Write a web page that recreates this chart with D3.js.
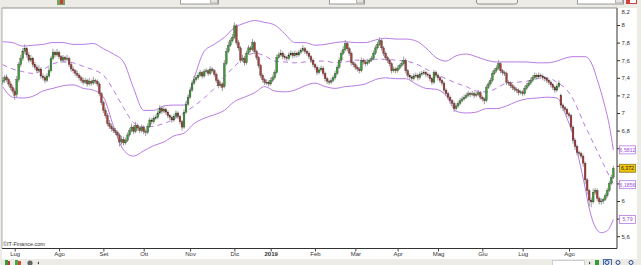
<!DOCTYPE html>
<html>
<head>
<meta charset="utf-8">
<script src="https://cdn.jsdelivr.net/npm/d3@7"></script>
<style>
html, body { margin: 0; padding: 0; background: #ecebe6; }
svg { display: block; font-family: "Liberation Sans", Arial, sans-serif; }
</style>
</head>
<body>
<svg id="chart" width="641" height="265"></svg>
<script>
// daily candles, one per trading day (index 0 = late June 2018)
var opens = [
7.35,7.37,7.41,7.38,7.33,7.29,7.25,7.21,7.38,7.55,
7.62,7.70,7.73,7.66,7.60,7.62,7.55,7.52,7.48,7.50,
7.42,7.40,7.37,7.42,7.48,7.62,7.69,7.66,7.69,7.64,
7.60,7.63,7.61,7.62,7.55,7.50,7.48,7.45,7.43,7.40,
7.37,7.35,7.37,7.33,7.36,7.34,7.37,7.36,7.33,7.22,
7.12,7.03,6.97,6.88,6.85,6.82,6.80,6.78,6.75,6.67,
6.70,6.66,6.69,6.75,6.80,6.84,6.79,6.86,6.83,6.80,
6.84,6.79,6.78,6.85,6.92,6.90,6.94,6.95,7.00,7.05,
7.02,7.04,7.01,6.97,6.95,6.92,6.96,7.00,6.96,6.90,
6.84,7.01,7.10,7.18,7.26,7.34,7.38,7.40,7.43,7.46,
7.42,7.47,7.48,7.45,7.50,7.48,7.44,7.37,7.31,7.33,
7.30,7.56,7.70,7.77,7.82,7.86,7.99,7.80,7.74,7.60,
7.62,7.57,7.68,7.74,7.72,7.80,7.70,7.63,7.54,7.43,
7.38,7.35,7.35,7.33,7.37,7.40,7.46,7.63,7.66,7.68,
7.64,7.63,7.62,7.66,7.68,7.65,7.68,7.66,7.69,7.71,
7.73,7.70,7.68,7.64,7.60,7.55,7.52,7.46,7.49,7.51,
7.45,7.39,7.36,7.35,7.37,7.40,7.45,7.52,7.60,7.68,
7.72,7.79,7.73,7.68,7.57,7.55,7.52,7.50,7.48,7.60,
7.58,7.56,7.58,7.60,7.62,7.68,7.74,7.78,7.82,7.74,
7.68,7.63,7.60,7.56,7.48,7.50,7.48,7.51,7.54,7.56,
7.60,7.48,7.43,7.41,7.39,7.42,7.43,7.40,7.44,7.45,
7.46,7.44,7.43,7.39,7.35,7.46,7.43,7.40,7.37,7.34,
7.26,7.22,7.18,7.14,7.11,7.05,7.08,7.11,7.14,7.16,
7.18,7.20,7.22,7.21,7.22,7.20,7.21,7.23,7.18,7.16,
7.14,7.29,7.33,7.37,7.45,7.48,7.51,7.56,7.48,7.46,
7.45,7.35,7.34,7.31,7.29,7.27,7.26,7.23,7.24,7.22,
7.28,7.31,7.34,7.37,7.40,7.43,7.41,7.43,7.42,7.40,
7.39,7.37,7.35,7.32,7.29,7.26,7.30,7.20,7.09,7.06,
7.04,6.99,6.97,6.84,6.69,6.62,6.55,6.54,6.51,6.43,
6.24,6.12,6.01,5.99,6.10,6.12,6.03,5.99,6.00,6.02,
6.06,6.12,6.20,6.27
];
var highs = [
7.41,7.43,7.44,7.40,7.36,7.32,7.28,7.42,7.58,7.66,
7.74,7.78,7.75,7.69,7.66,7.64,7.58,7.55,7.54,7.52,
7.45,7.43,7.45,7.52,7.65,7.73,7.71,7.73,7.71,7.66,
7.66,7.65,7.66,7.64,7.58,7.53,7.50,7.48,7.45,7.42,
7.40,7.40,7.39,7.40,7.38,7.41,7.39,7.38,7.35,7.24,
7.14,7.06,7.00,6.92,6.88,6.85,6.83,6.80,6.77,6.74,
6.73,6.72,6.78,6.83,6.88,6.86,6.90,6.88,6.85,6.87,
6.86,6.82,6.88,6.95,6.94,6.97,6.98,7.03,7.09,7.07,
7.07,7.06,7.03,6.99,6.97,6.99,7.03,7.02,6.98,6.92,
7.04,7.13,7.21,7.29,7.37,7.42,7.43,7.46,7.49,7.48,
7.50,7.51,7.50,7.53,7.52,7.50,7.46,7.39,7.36,7.35,
7.60,7.74,7.81,7.85,7.90,8.03,8.01,7.83,7.76,7.66,
7.65,7.71,7.77,7.76,7.84,7.82,7.72,7.65,7.56,7.45,
7.40,7.38,7.37,7.40,7.43,7.49,7.66,7.69,7.72,7.70,
7.67,7.65,7.69,7.71,7.70,7.71,7.70,7.72,7.74,7.77,
7.75,7.72,7.70,7.66,7.62,7.57,7.54,7.52,7.54,7.53,
7.47,7.41,7.38,7.40,7.43,7.48,7.55,7.63,7.71,7.76,
7.83,7.81,7.75,7.70,7.59,7.57,7.54,7.52,7.63,7.62,
7.60,7.61,7.62,7.65,7.71,7.77,7.81,7.86,7.84,7.76,
7.70,7.65,7.62,7.58,7.53,7.52,7.54,7.56,7.59,7.64,
7.62,7.50,7.45,7.43,7.45,7.46,7.45,7.47,7.48,7.49,
7.48,7.46,7.45,7.41,7.49,7.48,7.45,7.42,7.39,7.36,
7.28,7.24,7.20,7.16,7.13,7.11,7.14,7.17,7.19,7.21,
7.23,7.25,7.24,7.25,7.24,7.24,7.26,7.25,7.20,7.18,
7.32,7.36,7.40,7.48,7.51,7.54,7.60,7.58,7.50,7.48,
7.47,7.37,7.36,7.33,7.31,7.29,7.28,7.26,7.26,7.31,
7.34,7.37,7.40,7.43,7.46,7.45,7.46,7.45,7.44,7.42,
7.41,7.39,7.37,7.34,7.31,7.33,7.37,7.22,7.11,7.08,
7.06,7.01,6.99,6.86,6.71,6.64,6.57,6.56,6.53,6.45,
6.26,6.14,6.04,6.14,6.15,6.14,6.05,6.03,6.04,6.09,
6.15,6.23,6.30,6.40
];
var lows = [
7.32,7.34,7.35,7.30,7.26,7.22,7.15,7.18,7.35,7.52,
7.59,7.67,7.63,7.57,7.58,7.52,7.49,7.45,7.46,7.39,
7.37,7.34,7.35,7.40,7.46,7.60,7.63,7.64,7.61,7.57,
7.58,7.58,7.59,7.52,7.47,7.45,7.42,7.40,7.37,7.34,
7.32,7.33,7.30,7.31,7.31,7.32,7.33,7.30,7.19,7.09,
7.00,6.94,6.85,6.82,6.79,6.77,6.75,6.71,6.62,6.64,
6.63,6.64,6.67,6.73,6.78,6.76,6.77,6.80,6.77,6.78,
6.76,6.74,6.76,6.83,6.87,6.88,6.92,6.93,6.98,6.99,
7.00,6.98,6.94,6.92,6.89,6.90,6.94,6.93,6.87,6.80,
6.82,6.99,7.08,7.16,7.24,7.32,7.36,7.38,7.41,7.39,
7.40,7.45,7.42,7.43,7.46,7.41,7.34,7.28,7.29,7.25,
7.28,7.54,7.68,7.75,7.80,7.84,7.77,7.71,7.57,7.58,
7.54,7.55,7.66,7.69,7.70,7.67,7.60,7.51,7.40,7.35,
7.32,7.32,7.30,7.31,7.35,7.38,7.44,7.61,7.64,7.61,
7.60,7.59,7.60,7.64,7.62,7.63,7.63,7.64,7.67,7.69,
7.67,7.65,7.61,7.57,7.52,7.49,7.43,7.44,7.47,7.42,
7.36,7.33,7.32,7.33,7.35,7.38,7.43,7.50,7.58,7.66,
7.70,7.70,7.65,7.54,7.52,7.49,7.47,7.45,7.46,7.55,
7.53,7.54,7.56,7.58,7.60,7.66,7.72,7.76,7.71,7.65,
7.60,7.57,7.53,7.45,7.46,7.45,7.46,7.49,7.52,7.54,
7.45,7.40,7.38,7.36,7.37,7.40,7.37,7.38,7.42,7.43,
7.41,7.40,7.36,7.32,7.33,7.40,7.37,7.34,7.31,7.23,
7.19,7.15,7.11,7.08,7.01,7.03,7.06,7.09,7.12,7.14,
7.16,7.18,7.18,7.19,7.17,7.18,7.19,7.15,7.13,7.10,
7.12,7.27,7.31,7.35,7.43,7.46,7.49,7.45,7.43,7.42,
7.32,7.31,7.28,7.26,7.24,7.23,7.20,7.21,7.19,7.20,
7.26,7.29,7.32,7.35,7.38,7.38,7.39,7.39,7.37,7.36,
7.34,7.32,7.29,7.26,7.23,7.24,7.28,7.05,7.02,7.01,
6.96,6.94,6.80,6.65,6.58,6.52,6.51,6.48,6.39,6.19,
6.07,5.94,5.93,5.97,6.07,6.00,5.96,5.96,5.97,6.00,
6.04,6.10,6.18,6.25
];
var closes = [
7.37,7.40,7.38,7.33,7.29,7.25,7.20,7.38,7.55,7.62,
7.70,7.73,7.66,7.60,7.62,7.55,7.52,7.48,7.50,7.42,
7.40,7.37,7.42,7.48,7.62,7.69,7.66,7.69,7.64,7.60,
7.63,7.61,7.62,7.55,7.50,7.48,7.45,7.43,7.40,7.37,
7.35,7.37,7.33,7.36,7.34,7.37,7.36,7.33,7.22,7.12,
7.03,6.97,6.88,6.85,6.82,6.80,6.78,6.75,6.67,6.70,
6.66,6.69,6.75,6.80,6.84,6.79,6.86,6.83,6.80,6.84,
6.79,6.78,6.85,6.92,6.90,6.94,6.95,7.00,7.05,7.02,
7.04,7.01,6.97,6.95,6.92,6.96,7.00,6.96,6.90,6.84,
7.01,7.10,7.18,7.26,7.34,7.38,7.40,7.43,7.46,7.42,
7.47,7.48,7.45,7.50,7.48,7.44,7.37,7.31,7.33,7.29,
7.56,7.70,7.77,7.82,7.86,7.99,7.80,7.74,7.60,7.62,
7.57,7.68,7.74,7.72,7.80,7.70,7.63,7.54,7.43,7.38,
7.35,7.35,7.33,7.37,7.40,7.46,7.63,7.66,7.68,7.64,
7.63,7.62,7.66,7.68,7.65,7.68,7.66,7.69,7.71,7.73,
7.70,7.68,7.64,7.60,7.55,7.52,7.46,7.49,7.51,7.45,
7.39,7.36,7.35,7.37,7.40,7.45,7.52,7.60,7.68,7.72,
7.79,7.73,7.68,7.57,7.55,7.52,7.50,7.48,7.60,7.58,
7.56,7.58,7.60,7.62,7.68,7.74,7.78,7.82,7.74,7.68,
7.63,7.60,7.56,7.48,7.50,7.48,7.51,7.54,7.56,7.60,
7.48,7.43,7.41,7.39,7.42,7.43,7.40,7.44,7.45,7.46,
7.44,7.43,7.39,7.35,7.46,7.43,7.40,7.37,7.34,7.26,
7.22,7.18,7.14,7.11,7.05,7.08,7.11,7.14,7.16,7.18,
7.20,7.22,7.21,7.22,7.20,7.21,7.23,7.18,7.16,7.14,
7.29,7.33,7.37,7.45,7.48,7.51,7.56,7.48,7.46,7.45,
7.35,7.34,7.31,7.29,7.27,7.26,7.23,7.24,7.22,7.28,
7.31,7.34,7.37,7.40,7.43,7.41,7.43,7.42,7.40,7.39,
7.37,7.35,7.32,7.29,7.26,7.30,7.34,7.09,7.06,7.04,
6.99,6.97,6.84,6.69,6.62,6.55,6.54,6.51,6.43,6.24,
6.12,6.01,5.99,6.10,6.12,6.03,5.99,6.00,6.02,6.06,
6.12,6.20,6.27,6.37
];

// bollinger bands, at these candle indexes
var bandIdx = [0,5,10,15,20,25,30,35,40,45,50,55,60,65,70,75,80,85,90,95,
  100,105,110,115,120,125,130,135,140,145,150,155,160,165,170,175,180,185,190,195,
  200,205,210,215,220,225,230,235,240,245,250,255,260,265,270,275,280,283,286,289,
  291,293,295,297,299,301,303];
var bandUpper = [7.81,7.80,7.76,7.77,7.78,7.80,7.80,7.78,7.78,7.79,
  7.73,7.67,7.58,7.28,7.03,7.03,7.08,7.09,7.09,7.40,
  7.70,7.78,7.86,7.97,8.02,8.05,8.03,8.00,7.90,7.80,
  7.80,7.77,7.78,7.80,7.81,7.80,7.80,7.83,7.85,7.84,
  7.84,7.82,7.74,7.63,7.59,7.65,7.67,7.64,7.60,7.58,
  7.58,7.58,7.58,7.57,7.57,7.59,7.63,7.64,7.64,7.64,
  7.61,7.52,7.38,7.23,7.06,6.86,6.58];
var bandMid = [7.55,7.50,7.47,7.45,7.49,7.56,7.58,7.57,7.53,7.49,
  7.43,7.26,7.06,6.89,6.84,6.85,6.88,6.93,7.00,7.08,
  7.17,7.28,7.41,7.53,7.63,7.68,7.65,7.59,7.58,7.57,
  7.58,7.59,7.59,7.57,7.58,7.60,7.60,7.61,7.61,7.60,
  7.59,7.56,7.50,7.44,7.39,7.34,7.30,7.25,7.24,7.28,
  7.34,7.35,7.36,7.39,7.40,7.35,7.26,7.16,7.01,6.85,
  6.76,6.66,6.57,6.47,6.38,6.28,6.19];
var bandLower = [7.30,7.18,7.17,7.19,7.25,7.28,7.31,7.32,7.28,7.26,
  7.18,6.85,6.58,6.51,6.57,6.63,6.67,6.74,6.77,6.88,
  6.94,6.98,7.03,7.13,7.18,7.23,7.30,7.25,7.24,7.26,
  7.31,7.34,7.30,7.28,7.30,7.31,7.33,7.38,7.40,7.39,
  7.39,7.33,7.28,7.27,7.20,7.02,7.00,7.01,7.05,7.05,
  7.08,7.13,7.16,7.17,7.18,7.17,6.94,6.75,6.47,6.15,
  5.92,5.76,5.67,5.64,5.65,5.69,5.79];

// month starts (candle index) and labels
var monthIdx = [6,28,50,70,93,115,133,155,175,196,216,238,258,281];
var monthLabels = ["Lug","Ago","Set","Ott","Nov","Dic","2019","Feb","Mar","Apr","Mag","Giu","Lug","Ago"];
var priceTicks = [5.6,5.8,6,6.2,6.4,6.6,6.8,7,7.2,7.4,7.6,7.8,8,8.2];

// last values shown on the right
var lastVals = [6.5812,6.372,6.1856,5.79];
var lastLabels = ["6,5812","6,372","6,1856","5,79"];
var lastKinds = ["band","price","band","band"];

var W = 641, H = 265;
var pl = 2, pr = 617, pt = 8, pb = 248.5;
var upCol = "#34a034", downCol = "#a63e3c", wickCol = "#8f8f8f", bandCol = "#b77ae6";

var svg = d3.select("#chart");

var x = d3.scaleLinear().domain([6, 281]).range([14.7, 569]);
var y = d3.scaleLinear().domain([6, 8]).range([201, 25]);
var itFmt = d3.formatLocale({decimal: ",", thousands: ".", grouping: [3], currency: ["", "€"]}).format(".1~f");

// frame
svg.append("rect").attr("width", W).attr("height", H).attr("fill", "#ecebe6");
svg.append("rect").attr("x", pl).attr("y", pt).attr("width", 635).attr("height", 251).attr("fill", "#fff");

// top toolbar bits (cut off)
var tb = svg.append("g");
tb.append("rect").attr("x", 57).attr("y", -3).attr("width", 8).attr("height", 8).attr("fill", "#7aa05a");
tb.append("rect").attr("x", 60).attr("y", 0).attr("width", 3).attr("height", 4).attr("fill", "#c04040");
[[180, 38], [329, 35], [577, 46]].forEach(function (d) {
  tb.append("rect").attr("x", d[0] + 0.5).attr("y", -6).attr("width", d[1]).attr("height", 10)
    .attr("fill", "#fff").attr("stroke", "#9a9a9a");
  tb.append("rect").attr("x", d[0] + d[1] - 7.5).attr("y", -5).attr("width", 7).attr("height", 8)
    .attr("fill", "#e6e4dc").attr("stroke", "#b0b0b0");
});
tb.append("rect").attr("x", 476.5).attr("y", -6).attr("width", 41).attr("height", 10).attr("rx", 2)
  .attr("fill", "#f2f1ec").attr("stroke", "#8c8c8c");
tb.append("rect").attr("x", 626).attr("y", -2).attr("width", 11).attr("height", 6).attr("fill", "#d04040");
tb.append("rect").attr("x", 630).attr("y", 0).attr("width", 6).attr("height", 3).attr("fill", "#fff");

// plot clip
svg.append("defs").append("clipPath").attr("id", "clip")
  .append("rect").attr("x", pl).attr("y", pt).attr("width", pr - pl).attr("height", pb - pt);

var plot = svg.append("g").attr("clip-path", "url(#clip)");

// bands
var bandData = bandIdx.map(function (d, i) {
  return {i: d, up: bandUpper[i], mid: bandMid[i], lo: bandLower[i]};
});
function bandLine(key) {
  return d3.line().curve(d3.curveMonotoneX)
    .x(function (d) { return x(d.i); })
    .y(function (d) { return y(d[key]); });
}
plot.append("path").datum(bandData).attr("d", bandLine("up"))
  .attr("fill", "none").attr("stroke", bandCol).attr("stroke-width", 1);
plot.append("path").datum(bandData).attr("d", bandLine("lo"))
  .attr("fill", "none").attr("stroke", bandCol).attr("stroke-width", 1);
plot.append("path").datum(bandData).attr("d", bandLine("mid"))
  .attr("fill", "none").attr("stroke", bandCol).attr("stroke-width", 1)
  .attr("stroke-dasharray", "5,4");

// candles
var candles = closes.map(function (c, i) {
  return {i: i, o: opens[i], h: highs[i], l: lows[i], c: c};
});
plot.selectAll("line.wick").data(candles).enter().append("line")
  .attr("class", "wick")
  .attr("x1", function (d) { return x(d.i); })
  .attr("x2", function (d) { return x(d.i); })
  .attr("y1", function (d) { return y(d.h); })
  .attr("y2", function (d) { return y(d.l); })
  .attr("stroke", wickCol).attr("stroke-width", 0.9);
plot.selectAll("rect.body").data(candles).enter().append("rect")
  .attr("class", "body")
  .attr("x", function (d) { return x(d.i) - 0.9; })
  .attr("width", 1.8)
  .attr("y", function (d) { return y(Math.max(d.o, d.c)); })
  .attr("height", function (d) { return Math.max(0.8, Math.abs(y(d.o) - y(d.c))); })
  .attr("fill", function (d) { return d.c >= d.o ? upCol : downCol; })
  .attr("stroke", "#3a2a2a").attr("stroke-width", 0.3);

// watermark
svg.append("text").attr("x", 3).attr("y", 245.5).attr("font-size", 5.5).attr("fill", "#333")
  .text("©IT-Finance.com");

// axes lines
svg.append("line").attr("x1", pl).attr("x2", pr).attr("y1", pb).attr("y2", pb)
  .attr("stroke", "#333").attr("stroke-width", 1.2);
svg.append("line").attr("x1", pr).attr("x2", pr).attr("y1", pt).attr("y2", pb)
  .attr("stroke", "#333").attr("stroke-width", 1);
svg.append("line").attr("x1", pl).attr("x2", pr).attr("y1", pt).attr("y2", pt)
  .attr("stroke", "#777").attr("stroke-width", 0.8);
svg.append("line").attr("x1", pl).attr("x2", pl).attr("y1", pt).attr("y2", pb)
  .attr("stroke", "#999").attr("stroke-width", 0.8);

// right price axis (labels under the value boxes are hidden, as on the original)
var yAxis = svg.append("g").attr("transform", "translate(" + pr + ",0)")
  .call(d3.axisRight(y).tickValues(priceTicks).tickSize(3).tickPadding(1.5).tickFormat(itFmt));
yAxis.select(".domain").remove();
yAxis.selectAll("line").attr("stroke", "#333");
yAxis.selectAll("text").attr("font-size", 6).attr("fill", "#333").attr("font-family", "Liberation Sans, Arial, sans-serif");
yAxis.selectAll(".tick").filter(function (d) { return y(d) < pt + 3; })
  .attr("transform", "translate(0,12)")
  .select("line").remove();
yAxis.selectAll(".tick").filter(function (d) {
  return lastVals.some(function (v) { return Math.abs(y(v) - y(d)) < 7; });
}).select("text").remove();

// bottom month axis
var xAxis = svg.append("g").attr("transform", "translate(0," + pb + ")")
  .call(d3.axisBottom(x).tickValues(monthIdx).tickSize(3).tickPadding(0.5)
    .tickFormat(function (d, i) { return monthLabels[i]; }));
xAxis.select(".domain").remove();
xAxis.selectAll("line").attr("stroke", "#444");
xAxis.selectAll("text").attr("font-size", 6).attr("fill", "#333")
  .attr("font-family", "Liberation Sans, Arial, sans-serif")
  .attr("font-weight", function (d, i) { return monthLabels[i] === "2019" ? "bold" : null; });

// last value boxes
var boxes = svg.append("g");
lastVals.forEach(function (v, i) {
  var yy = y(v);
  var isPrice = lastKinds[i] === "price";
  boxes.append("rect").attr("x", 619.5).attr("y", yy - 4).attr("width", 16).attr("height", 8)
    .attr("fill", isPrice ? "#f2c500" : "#fff")
    .attr("stroke", isPrice ? "#8a7a30" : bandCol).attr("stroke-width", 0.8);
  boxes.append("text").attr("x", 627.5).attr("y", yy + 2).attr("text-anchor", "middle")
    .attr("font-size", 5.2).attr("fill", isPrice ? "#222" : "#9a52d6")
    .text(lastLabels[i]);
});

// right frame strip
svg.append("rect").attr("x", 637).attr("y", 8).attr("width", 4).attr("height", 251).attr("fill", "#ecebe6");

// bottom toolbar
var bt = svg.append("g");
bt.append("rect").attr("x", 0).attr("y", 259).attr("width", W).attr("height", 6).attr("fill", "#ecebe6");
bt.append("rect").attr("x", 5).attr("y", 260).attr("width", 3).attr("height", 5).attr("fill", "#3a9a3a");
bt.append("rect").attr("x", 8).attr("y", 261).attr("width", 2).attr("height", 4).attr("fill", "#c03a3a");
bt.append("rect").attr("x", 15).attr("y", 260).attr("width", 3).attr("height", 5).attr("fill", "#48a848");
bt.append("rect").attr("x", 18).attr("y", 261).attr("width", 3).attr("height", 4).attr("fill", "#d04a3a");
bt.append("circle").attr("cx", 30).attr("cy", 263).attr("r", 2.6).attr("fill", "#666");
bt.append("path").attr("d", "M39,261.5 L39,264.5 L37.5,263 Z").attr("fill", "#333");
bt.append("rect").attr("x", 552.5).attr("y", 260.5).attr("width", 32).attr("height", 5).attr("fill", "#fff").attr("stroke", "#cfcfcf");
bt.append("path").attr("d", "M589,261.5 L589,264.5 L590.5,263 Z").attr("fill", "#333");
bt.append("rect").attr("x", 595).attr("y", 260).attr("width", 4).attr("height", 5).attr("fill", "#3a9a3a");
bt.append("rect").attr("x", 603.5).attr("y", 259.5).attr("width", 8).attr("height", 6).attr("fill", "#dde6f4").attr("stroke", "#4a6aa8");
bt.append("circle").attr("cx", 607).attr("cy", 262.5).attr("r", 2).attr("fill", "none").attr("stroke", "#2a4a8a");
bt.append("circle").attr("cx", 618).attr("cy", 262.5).attr("r", 2).attr("fill", "none").attr("stroke", "#2a4a8a");
bt.append("circle").attr("cx", 631).attr("cy", 262.5).attr("r", 2).attr("fill", "none").attr("stroke", "#2a4a8a");
</script>
</body>
</html>
